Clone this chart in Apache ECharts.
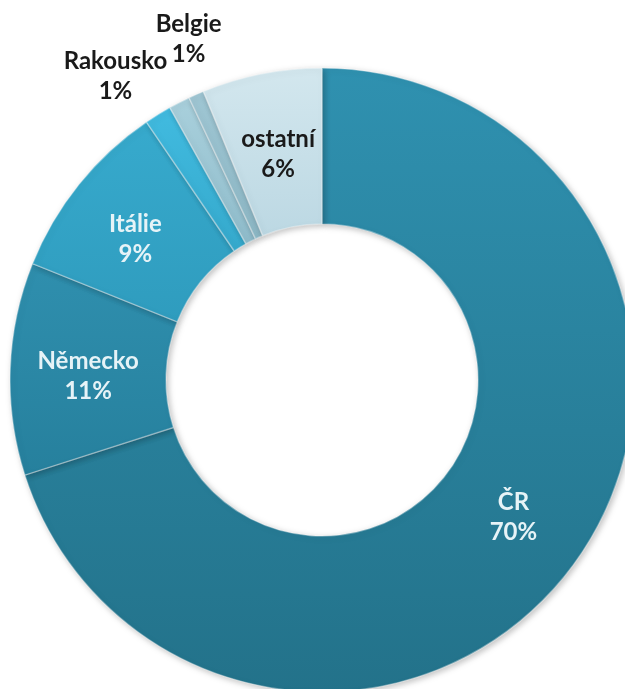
<!DOCTYPE html>
<html>
<head>
<meta charset="utf-8">
<script src="https://cdn.jsdelivr.net/npm/echarts@6/dist/echarts.min.js"></script>
<style>html,body{margin:0;padding:0;background:#fff}#c{width:625px;height:689px}</style>
</head>
<body>
<div id="c"></div>
<script>
const names = ['ČR', 'Německo', 'Itálie', 'Rakousko', 'Belgie', '', 'ostatní'];
const values = [70, 11, 9.4, 1.4, 1.1, 0.8, 6.2];
const labelShown = [true, true, true, true, true, false, true];
const colorsTop = ['#2f91b0', '#2f8fae', '#37aacd', '#41bbe0', '#a9d0dc', '#9fc6d3', '#d3e7ee'];
const colorsBottom = ['#23728a', '#26809d', '#2f9cbe', '#35a9cc', '#8fbccb', '#8db8c6', '#bcd8e3'];
const textColors = ['#e6f3f7', '#e6f3f7', '#e6f3f7', '#1a1a1a', '#1a1a1a', '#1a1a1a', '#1a1a1a'];
// label nudges (dx, dy) from the default inside position
const labelDx = [0, 3, -2, -82, -25, 0, 2];
const labelDy = [-2, 5, 8, -102, -130, 0, 7];

const chart = echarts.init(document.getElementById('c'), null, {renderer: 'canvas'});
const data = names.map((n, i) => ({
  name: n,
  value: values[i],
  itemStyle: {
    color: new echarts.graphic.LinearGradient(0, 0, 0, 1, [
      {offset: 0, color: colorsTop[i]},
      {offset: 1, color: colorsBottom[i]}
    ])
  },
  label: {
    show: labelShown[i],
    position: 'inside',
    color: textColors[i]
  },
  labelLine: {show: false}
}));

chart.setOption({
  animation: false,
  series: [{
    type: 'pie',
    center: [322, 380],
    radius: [156, 312],
    startAngle: 90,
    clockwise: true,
    avoidLabelOverlap: false,
    data: data,
    itemStyle: {
      borderColor: 'rgba(255,255,255,0.35)',
      borderWidth: 1.5,
      shadowBlur: 6,
      shadowColor: 'rgba(0,0,0,0.25)',
      shadowOffsetX: 2,
      shadowOffsetY: 2
    },
    label: {
      fontFamily: 'Lato',
      fontWeight: 'bold',
      fontSize: 24,
      lineHeight: 30,
      align: 'center',
      formatter: p => p.name + '\n' + Math.round(p.percent) + '%'
    },
    labelLayout: function (params) {
      const i = params.dataIndex;
      return {dx: labelDx[i] || 0, dy: labelDy[i] || 0};
    }
  }]
});
</script>
</body>
</html>
